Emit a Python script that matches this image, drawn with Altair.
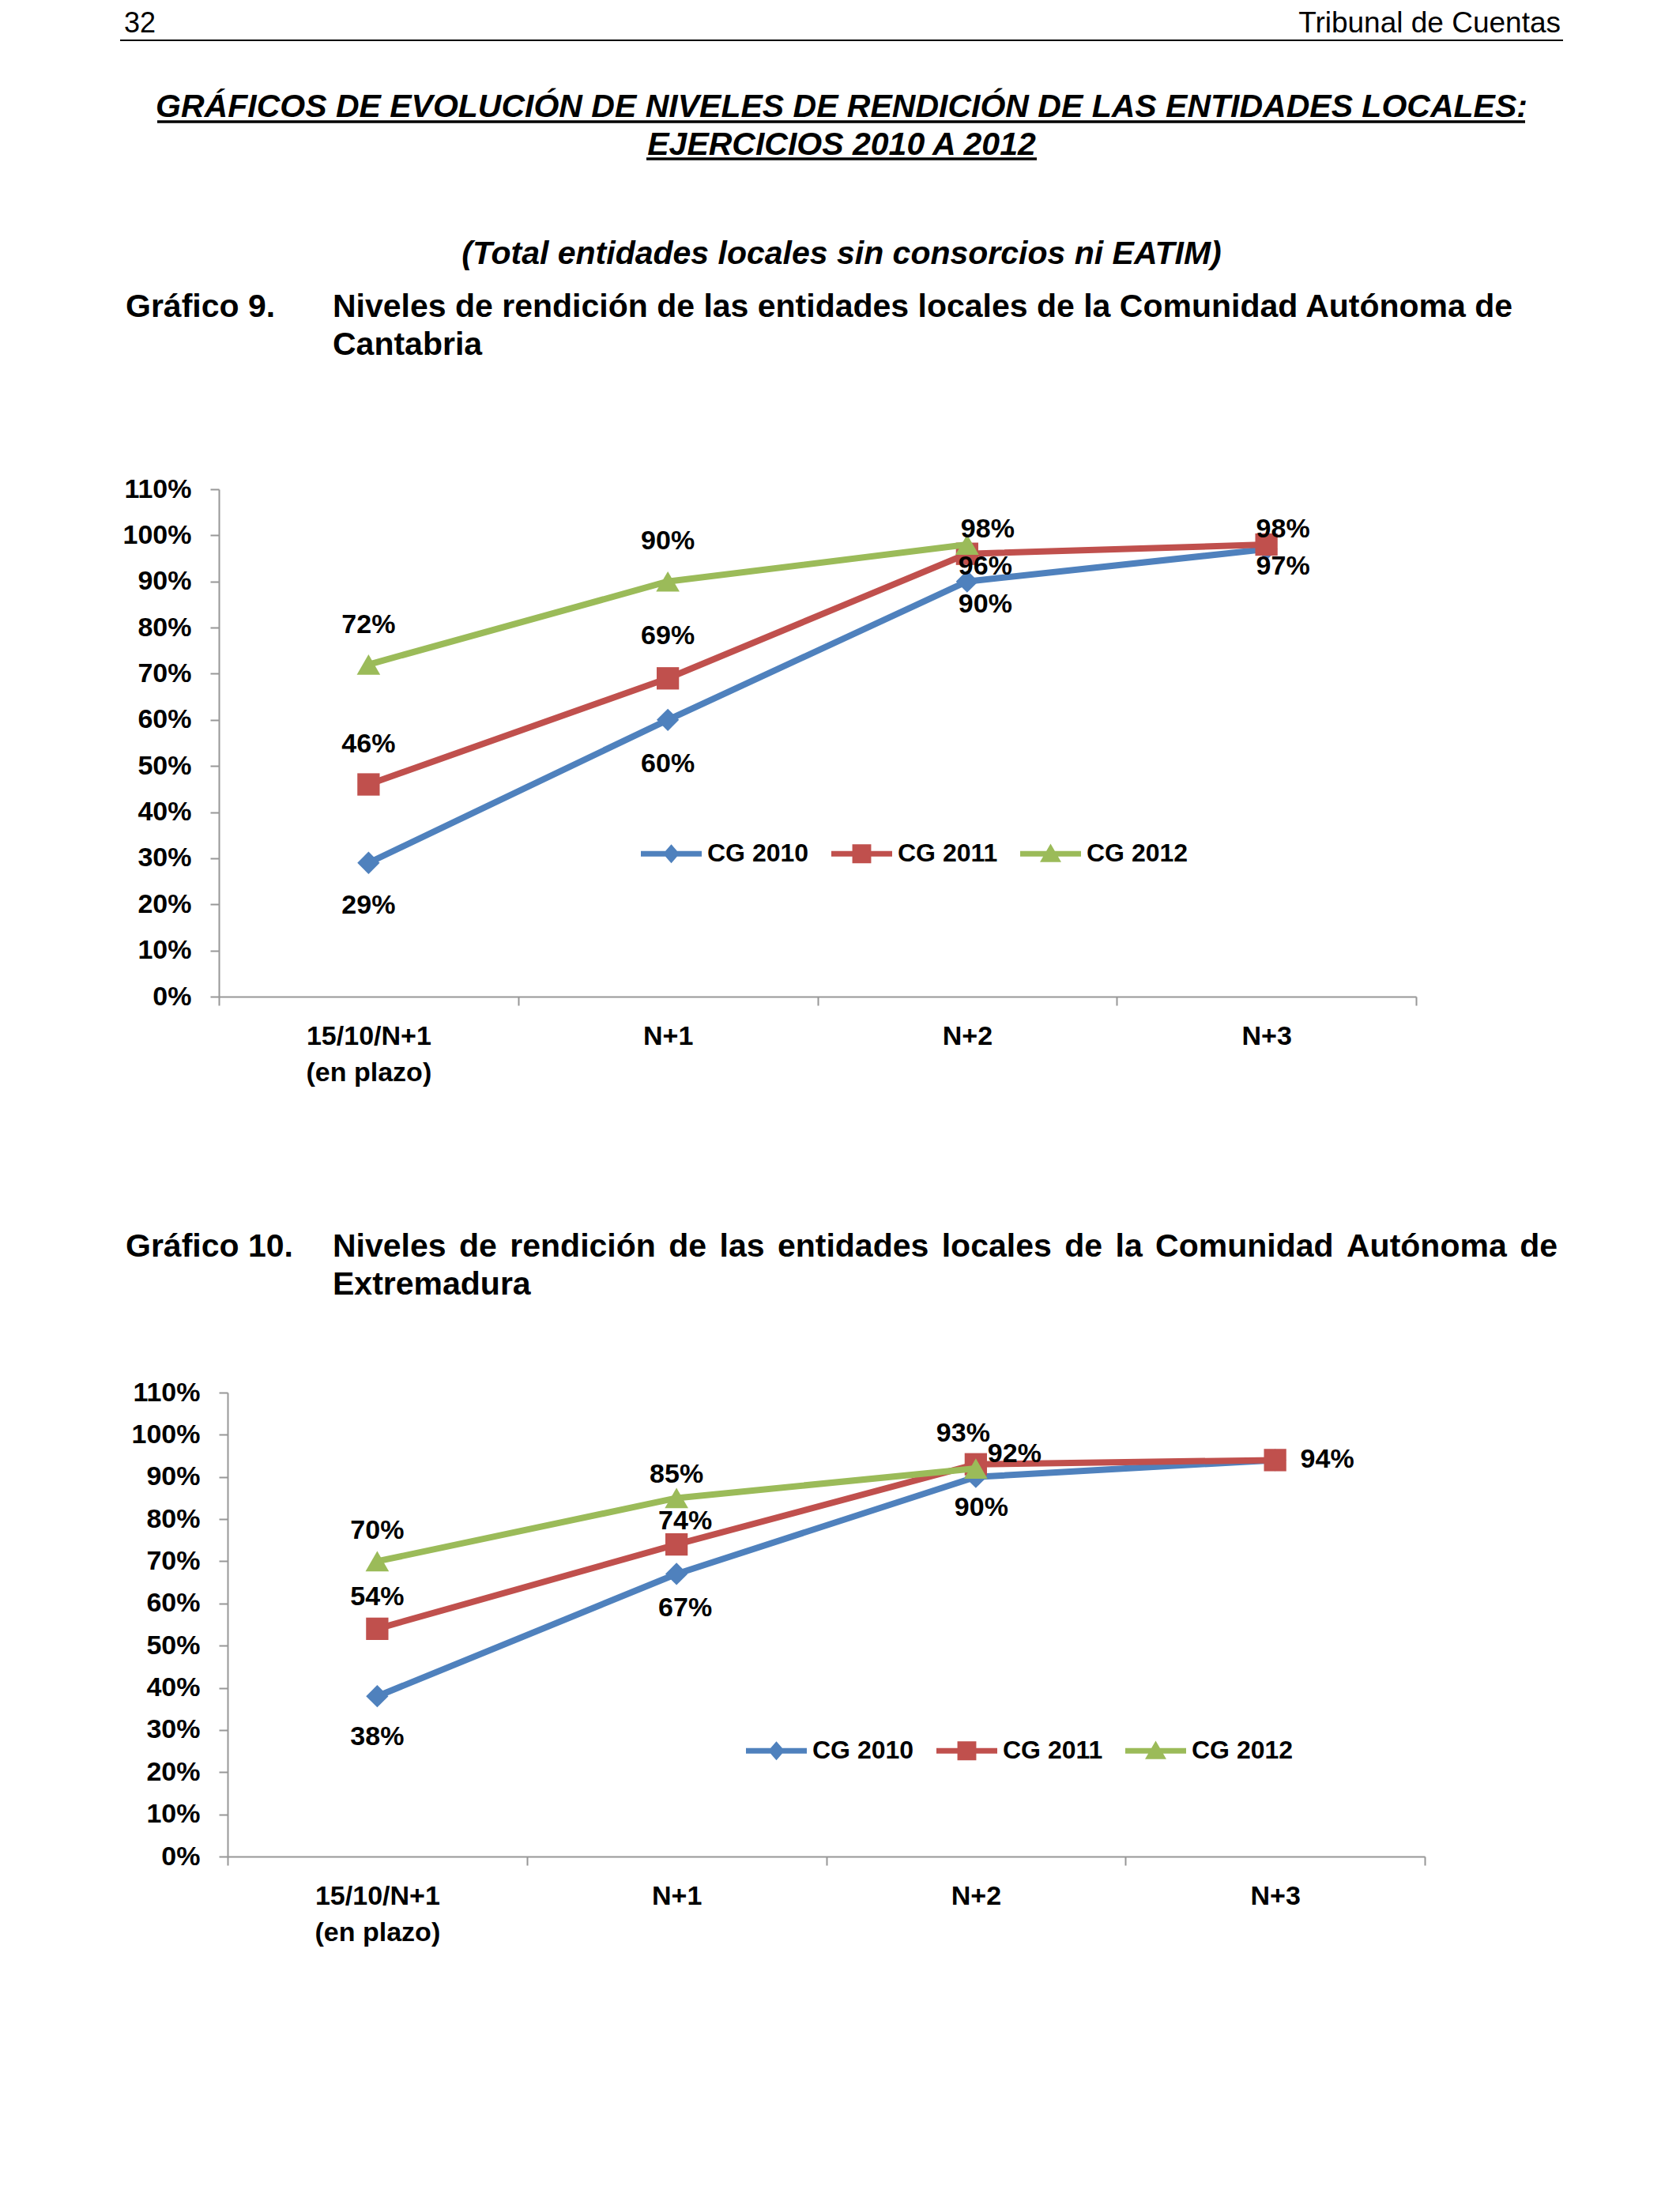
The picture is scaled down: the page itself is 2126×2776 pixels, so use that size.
import altair as alt
import pandas as pd

# ---------------- data ----------------
categories = ["15/10/N+1\n(en plazo)", "N+1", "N+2", "N+3"]
series_names = ["CG 2010", "CG 2011", "CG 2012"]
series_colors = ["#4F81BD", "#C0504D", "#9BBB59"]

cantabria_cg2010 = [0.29, 0.60, 0.90, 0.97]
cantabria_cg2011 = [0.46, 0.69, 0.96, 0.98]
cantabria_cg2012 = [0.72, 0.90, 0.98, None]

extremadura_cg2010 = [0.38, 0.67, 0.90, 0.94]
extremadura_cg2011 = [0.54, 0.74, 0.93, 0.94]
extremadura_cg2012 = [0.70, 0.85, 0.92, None]

y_ticks = [0.0, 0.1, 0.2, 0.3, 0.4, 0.5, 0.6, 0.7, 0.8, 0.9, 1.0, 1.1]

header_number = "32"
header_right = "Tribunal de Cuentas"
main_title = ["GRÁFICOS DE EVOLUCIÓN DE NIVELES DE RENDICIÓN DE LAS ENTIDADES LOCALES:",
              "EJERCICIOS 2010 A 2012"]
subtitle = "(Total entidades locales sin consorcios ni EATIM)"
g9_label = "Gráfico 9."
g9_title = ["Niveles de rendición de las entidades locales de la Comunidad Autónoma de", "Cantabria"]
g10_label = "Gráfico 10."
g10_title = ["Niveles de rendición de las entidades locales de la Comunidad Autónoma de", "Extremadura"]

# ---------------- style ----------------
FONT_CHART = "Liberation Sans, Arial, Helvetica, sans-serif"
FONT_TEXT = "Liberation Sans, Arial, Helvetica, sans-serif"
PLOT_W = 1515
H1 = 642
H2 = 587
CHART2_SHIFT = 11          # second plot area starts 11px further right than the first
CHART_FS = 34
LEGEND_FS = 32
AXIS_GRAY = "#979797"
marker_shapes = ["diamond", "square", "triangle-up"]
marker_sizes = [800, 800, 880]
legend_paths = [
    "M-1,-0.09H1V0.09H-1Z M0,-0.31L0.27,0L0,0.31L-0.27,0Z",
    "M-1,-0.09H1V0.09H-1Z M-0.31,-0.31H0.31V0.31H-0.31Z",
    "M-1,-0.09H1V0.09H-1Z M0,-0.33L0.35,0.27H-0.35Z",
]

# label offsets (dx, dy) in px per (series, category index) -- manual Excel label placement
cantabria_label_offsets = {
    ("CG 2010", 0): (0, 54), ("CG 2010", 1): (0, 56), ("CG 2010", 2): (23, 29), ("CG 2010", 3): (21, 22),
    ("CG 2011", 0): (0, -51), ("CG 2011", 1): (0, -53), ("CG 2011", 2): (23, 16), ("CG 2011", 3): (21, -19),
    ("CG 2012", 0): (0, -50), ("CG 2012", 1): (0, -51), ("CG 2012", 2): (26, -19),
}
extremadura_label_offsets = {
    ("CG 2010", 0): (0, 52), ("CG 2010", 1): (11, 44), ("CG 2010", 2): (7, 39),
    ("CG 2011", 0): (0, -40), ("CG 2011", 1): (11, -29), ("CG 2011", 2): (-16, -39), ("CG 2011", 3): (66, 0),
    ("CG 2012", 0): (0, -38), ("CG 2012", 1): (0, -29), ("CG 2012", 2): (49, -18),
}

# Arial/Liberation Sans Bold advance widths (per 1000 em) used to justify a heading line
BOLD_W = {" ": 278, "N": 722, "i": 278, "v": 556, "e": 556, "l": 278, "s": 556, "d": 611, "r": 389,
          "n": 611, "c": 556, "ó": 611, "a": 556, "t": 333, "o": 611, "C": 722, "m": 889, "u": 611,
          "A": 722, "ú": 611}


def long_frame(series_values):
    rows = []
    for s, vals in zip(series_names, series_values):
        for i, (c, v) in enumerate(zip(categories, vals)):
            if v is not None:
                rows.append({"cat": c, "series": s, "value": v, "idx": i})
    return pd.DataFrame(rows)


def enc_x(shift):
    return alt.X("cat:N", scale=alt.Scale(type="band", domain=categories, range=[shift, shift + PLOT_W],
                                          paddingInner=0, paddingOuter=0),
                 bandPosition=0.5,
                 axis=alt.Axis(title=None, tickBand="extent", labelAngle=0, labelLimit=0,
                               labelExpr="split(datum.label, '\\n')", labelLineHeight=46,
                               labelPadding=22, tickSize=11))


def enc_y(shift):
    return alt.Y("value:Q", scale=alt.Scale(domain=[0, 1.1], nice=False, zero=True),
                 axis=alt.Axis(title=None, values=y_ticks, format=".0%", grid=False,
                               labelPadding=24, tickSize=11, offset=-shift))


def one_row():
    return alt.Data(values=[{"k": 1}])


def text_at(x, y, txt, size, weight="normal", style="normal", align="left"):
    return alt.Chart(one_row()).mark_text(
        text=txt, align=align, baseline="alphabetic", font=FONT_TEXT, fontSize=size,
        fontWeight=weight, fontStyle=style, color="black"
    ).encode(x=alt.value(x), y=alt.value(y))


def justified_line(x0, x1, y, txt, size):
    words = txt.split(" ")
    widths = [sum(BOLD_W.get(ch, 556) for ch in w) * size / 1000.0 for w in words]
    gap = (x1 - x0 - sum(widths)) / (len(words) - 1)
    out, x = [], x0
    for w, wd in zip(words, widths):
        out.append(text_at(round(x, 1), y, w, size, weight="bold"))
        x += wd + gap
    return out


def hrule(x1, x2, y, w, opacity=1.0):
    return alt.Chart(one_row()).mark_rule(strokeWidth=w, color="black", opacity=opacity).encode(
        x=alt.value(x1), x2=alt.value(x2), y=alt.value(y))


def vrule(x, y1, y2, opacity=0.0):
    return alt.Chart(one_row()).mark_rule(strokeWidth=1, color="white", opacity=opacity).encode(
        x=alt.value(x), y=alt.value(y1), y2=alt.value(y2))


def line_chart(series_values, offsets, legend_x, legend_y, height, shift, extra_layers):
    df = long_frame(series_values)
    base = alt.Chart(df)
    X, Y = enc_x(shift), enc_y(shift)
    leg = alt.Legend(orient="none", legendX=legend_x, legendY=legend_y, direction="horizontal", title=None,
                     symbolSize=5929, symbolStrokeWidth=0, symbolOpacity=1, labelFont=FONT_CHART,
                     labelFontSize=LEGEND_FS, labelFontWeight="bold", labelColor="black", labelOffset=7,
                     columnPadding=28, padding=0)
    # legend-only layer (no rows drawn); colour + shape share the same explicit domain so they merge
    layers = [base.transform_filter("false").mark_point(filled=True).encode(
        x=X, y=Y,
        color=alt.Color("series:N", scale=alt.Scale(domain=series_names, range=series_colors), legend=leg),
        shape=alt.Shape("series:N", scale=alt.Scale(domain=series_names, range=legend_paths), legend=leg))]
    for i, s in enumerate(series_names):
        sub = base.transform_filter(alt.datum.series == s)
        layers.append(sub.mark_line(strokeWidth=8, strokeJoin="round", color=series_colors[i]).encode(x=X, y=Y))
        layers.append(sub.mark_point(filled=True, shape=marker_shapes[i], size=marker_sizes[i], opacity=1,
                                     color=series_colors[i]).encode(x=X, y=Y))
    for (s, idx), (dx, dy) in offsets.items():
        layers.append(base.transform_filter((alt.datum.series == s) & (alt.datum.idx == idx)).mark_text(
            align="center", baseline="middle", dx=dx, dy=dy, font=FONT_CHART, fontSize=CHART_FS,
            fontWeight="bold", color="black").encode(
            x=X, y=Y, text=alt.Text("value:Q", format=".0%")))
    return alt.layer(*(extra_layers + layers)).properties(width=PLOT_W + shift, height=height)


header1 = [
    vrule(-140, -610, 800),
    text_at(-120, -578, header_number, 36),
    text_at(1698, -578, header_right, 37, align="right"),
    hrule(-125, 1701, -568, 2),
    text_at(788, -471, main_title[0], 41, weight="bold", style="italic", align="center"),
    hrule(-78, 1653, -465, 3.5),
    text_at(788, -423, main_title[1], 41, weight="bold", style="italic", align="center"),
    hrule(541, 1035, -418, 3.5),
    text_at(788, -285, subtitle, 41, weight="bold", style="italic", align="center"),
    text_at(-118, -218, g9_label, 41, weight="bold"),
    text_at(144, -218, g9_title[0], 41, weight="bold"),
    text_at(144, -170, g9_title[1], 41, weight="bold"),
]
header2 = [
    vrule(-140, -240, 0),
    text_at(-118, -172, g10_label, 41, weight="bold"),
] + justified_line(144, 1694, -172, g10_title[0], 41) + [
    text_at(144, -124, g10_title[1], 41, weight="bold"),
]

chart1 = line_chart([cantabria_cg2010, cantabria_cg2011, cantabria_cg2012],
                    cantabria_label_offsets, 534, 422.5, H1, 0, header1)
chart2 = line_chart([extremadura_cg2010, extremadura_cg2011, extremadura_cg2012],
                    extremadura_label_offsets, 667, 414.5, H2, CHART2_SHIFT, header2)

chart = alt.vconcat(chart1, chart2, spacing=103).resolve_scale(
    color="independent", shape="independent"
).properties(
    padding={"left": 129, "top": 1, "right": 5, "bottom": 5}, background="white"
).configure_view(stroke=None).configure_axis(
    labelFont=FONT_CHART, labelFontSize=CHART_FS, labelFontWeight="bold", labelColor="black",
    domainColor=AXIS_GRAY, domainWidth=2, tickColor=AXIS_GRAY, tickWidth=2, grid=False
)

chart.save("out.html", embed_options={"renderer": "svg", "actions": False})
